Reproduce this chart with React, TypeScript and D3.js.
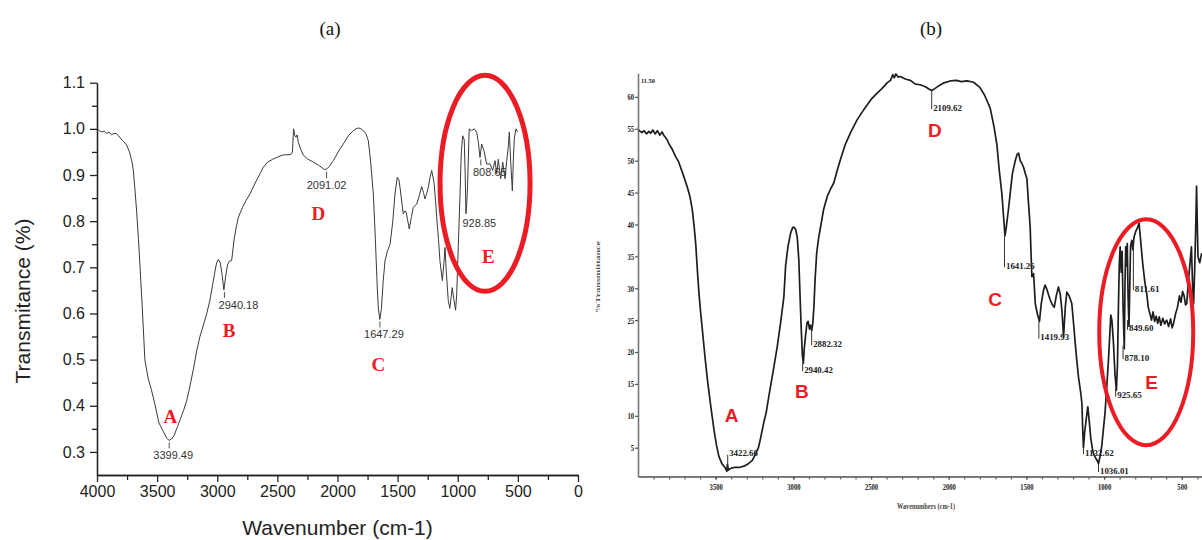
import React, { useRef, useEffect } from "react";
import * as d3 from "d3";

/* (a) spectrum: [wavenumber cm-1, transmittance] */
const spectrumA: [number, number][] = [
  [4000, 1.0], [3980, 0.996], [3960, 0.993], [3940, 0.995], [3920, 0.99], [3900, 0.993],
  [3880, 0.987], [3860, 0.99], [3840, 0.99], [3820, 0.985], [3800, 0.978], [3780, 0.973],
  [3754, 0.965], [3730, 0.95], [3710, 0.93], [3698, 0.91], [3685, 0.87], [3670, 0.82],
  [3655, 0.76], [3642, 0.7], [3625, 0.62], [3602, 0.5], [3575, 0.46], [3548, 0.435],
  [3520, 0.405], [3485, 0.363], [3450, 0.345], [3420, 0.33], [3400, 0.325], [3380, 0.328],
  [3360, 0.335], [3330, 0.355], [3309, 0.37], [3280, 0.39], [3255, 0.41], [3225, 0.445],
  [3198, 0.48], [3170, 0.52], [3144, 0.55], [3115, 0.575], [3087, 0.6], [3060, 0.63],
  [3040, 0.66], [3020, 0.69], [3005, 0.71], [2991, 0.717], [2975, 0.71], [2960, 0.685],
  [2945, 0.651], [2930, 0.68], [2915, 0.705], [2900, 0.713], [2880, 0.715], [2860, 0.76],
  [2840, 0.79], [2825, 0.808], [2790, 0.83], [2760, 0.845], [2728, 0.859], [2680, 0.885],
  [2640, 0.905], [2617, 0.917], [2580, 0.928], [2540, 0.934], [2506, 0.938], [2460, 0.943],
  [2420, 0.944], [2390, 0.944], [2375, 0.95], [2365, 1.0], [2355, 0.985], [2345, 0.982],
  [2336, 0.987], [2326, 0.971], [2305, 0.955], [2284, 0.943], [2250, 0.935], [2201, 0.928],
  [2150, 0.92], [2110, 0.912], [2090, 0.913], [2070, 0.918], [2035, 0.931], [1990, 0.952],
  [1952, 0.967], [1910, 0.985], [1869, 0.996], [1845, 1.0], [1827, 1.002], [1805, 1.0],
  [1785, 0.996], [1765, 0.99], [1744, 0.975], [1725, 0.93], [1702, 0.859], [1685, 0.76],
  [1670, 0.66], [1660, 0.61], [1648, 0.587], [1635, 0.61], [1620, 0.67], [1605, 0.714],
  [1585, 0.735], [1563, 0.75], [1540, 0.8], [1522, 0.859], [1503, 0.895], [1490, 0.89],
  [1480, 0.873], [1465, 0.84], [1453, 0.816], [1440, 0.822], [1430, 0.82], [1415, 0.8],
  [1403, 0.783], [1385, 0.81], [1370, 0.83], [1341, 0.837], [1320, 0.855], [1300, 0.875],
  [1285, 0.862], [1272, 0.848], [1258, 0.86], [1245, 0.873], [1230, 0.895], [1217, 0.91],
  [1198, 0.885], [1185, 0.845], [1175, 0.808], [1160, 0.76], [1148, 0.714], [1128, 0.671],
  [1115, 0.71], [1106, 0.743], [1095, 0.69], [1079, 0.628], [1066, 0.611], [1055, 0.635],
  [1046, 0.656], [1032, 0.63], [1018, 0.607], [1009, 0.64], [995, 0.75], [981, 0.859],
  [970, 0.95], [959, 0.985], [946, 0.976], [938, 0.9], [932, 0.816], [925, 0.84],
  [918, 0.88], [905, 1.0], [885, 0.996], [863, 1.0], [843, 0.993], [828, 0.97],
  [815, 0.938], [801, 0.967], [782, 0.953], [760, 0.924], [732, 0.924], [710, 0.91],
  [690, 0.931], [676, 0.903], [663, 0.934], [643, 0.892], [626, 0.928], [607, 0.892],
  [593, 0.931], [580, 0.96], [571, 0.993], [560, 0.93], [546, 0.866], [538, 0.93],
  [530, 0.978], [516, 1.0], [502, 0.993],
];

/* (b) spectrum: [wavenumber cm-1, %T] */
const spectrumB: [number, number][] = [
  [3995, 54.8], [3975, 54.4], [3960, 54.7], [3945, 54.2], [3930, 54.6], [3918, 54.3],
  [3905, 54.8], [3890, 54.2], [3875, 54.7], [3860, 54.0], [3845, 54.5], [3832, 53.9],
  [3815, 53.4], [3800, 52.6], [3780, 51.8], [3757, 50.6], [3740, 49.9], [3725, 48.9],
  [3705, 47.5], [3682, 45.8], [3665, 44.3], [3650, 42.2], [3638, 39.5], [3628, 36.8],
  [3617, 32.5], [3607, 29.0], [3596, 26.0], [3585, 23.3], [3570, 19.5], [3553, 15.6],
  [3530, 11.2], [3511, 7.8], [3495, 5.4], [3479, 3.6], [3460, 2.5], [3440, 1.9],
  [3428, 1.3], [3425, 2.4], [3418, 1.5], [3400, 1.8], [3380, 1.9], [3350, 1.9],
  [3318, 2.1], [3290, 2.5], [3264, 3.0], [3240, 4.2], [3225, 5.0], [3211, 6.5],
  [3190, 9.0], [3175, 10.5], [3157, 13.2], [3130, 17.0], [3104, 20.8], [3080, 25.0],
  [3061, 28.7], [3050, 33.5], [3035, 36.5], [3018, 38.6], [3005, 39.5], [2997, 39.6],
  [2985, 39.2], [2975, 38.0], [2965, 34.5], [2958, 29.5], [2950, 24.0], [2942, 19.5],
  [2936, 18.2], [2930, 20.5], [2922, 22.5], [2912, 24.6], [2905, 24.8], [2896, 23.6],
  [2889, 24.2], [2882, 23.4], [2875, 24.5], [2868, 27.0], [2860, 31.5], [2850, 35.5],
  [2838, 37.8], [2825, 39.6], [2805, 42.4], [2782, 44.4], [2760, 45.6], [2740, 46.5],
  [2720, 48.3], [2697, 50.2], [2665, 52.6], [2632, 54.4], [2590, 56.4], [2547, 58.0],
  [2500, 59.6], [2461, 60.6], [2430, 61.3], [2397, 62.2], [2375, 62.6], [2360, 63.5],
  [2350, 63.0], [2340, 63.6], [2325, 63.1], [2311, 63.2], [2280, 62.8], [2247, 62.6],
  [2215, 62.0], [2183, 61.9], [2150, 61.6], [2125, 61.2], [2110, 61.0], [2090, 61.3],
  [2060, 61.8], [2030, 62.2], [1990, 62.5], [1950, 62.6], [1920, 62.4], [1882, 62.5],
  [1840, 62.3], [1800, 61.5], [1770, 60.3], [1750, 59.2], [1733, 58.2], [1710, 55.5],
  [1690, 52.5], [1675, 48.5], [1658, 44.8], [1645, 40.5], [1638, 38.2], [1630, 39.5],
  [1615, 42.5], [1604, 45.0], [1590, 48.0], [1572, 50.0], [1560, 51.0], [1551, 51.2],
  [1540, 50.0], [1530, 49.6], [1519, 49.0], [1505, 47.8], [1497, 47.2], [1487, 43.5],
  [1476, 39.6], [1465, 31.8], [1454, 32.3], [1443, 27.6], [1430, 26.0], [1416, 24.8],
  [1405, 27.5], [1390, 29.7], [1380, 30.5], [1368, 29.8], [1358, 29.0], [1347, 28.2],
  [1335, 27.5], [1321, 27.0], [1308, 28.8], [1294, 30.2], [1282, 29.0], [1272, 26.6],
  [1261, 22.4], [1250, 27.0], [1240, 29.4], [1225, 28.8], [1208, 27.6], [1195, 24.0],
  [1186, 21.4], [1175, 18.5], [1165, 16.1], [1150, 13.5], [1143, 12.0], [1138, 8.0],
  [1133, 5.0], [1125, 7.5], [1115, 9.5], [1105, 11.4], [1095, 9.0], [1086, 6.5],
  [1075, 4.8], [1069, 4.1], [1055, 3.4], [1045, 3.0], [1036, 2.5], [1025, 3.8],
  [1015, 5.3], [1005, 7.8], [994, 10.5], [983, 14.5], [972, 18.8], [963, 23.0],
  [957, 25.8], [950, 25.0], [940, 21.5], [930, 16.5], [921, 14.0], [914, 18.0],
  [908, 27.0], [902, 34.0], [897, 36.5], [890, 32.5], [884, 35.8], [878, 27.0],
  [870, 20.5], [866, 30.0], [861, 36.5], [856, 33.5], [851, 37.0], [846, 29.0],
  [840, 24.0], [835, 30.0], [830, 36.5], [822, 37.5], [815, 36.0], [808, 38.0],
  [795, 39.0], [785, 39.5], [775, 40.2], [765, 37.5], [752, 34.0], [738, 31.0],
  [725, 29.0], [716, 27.0], [705, 26.0], [695, 25.0], [685, 26.3], [675, 24.8],
  [665, 25.6], [655, 24.5], [645, 25.5], [635, 24.2], [622, 25.3], [610, 24.4],
  [597, 25.0], [585, 24.0], [572, 25.2], [562, 23.8], [552, 24.6], [540, 26.0],
  [528, 27.0], [515, 28.8], [505, 27.8], [495, 29.5], [485, 28.8], [476, 27.4],
  [468, 27.6], [458, 31.0], [447, 34.0], [438, 36.5], [430, 30.0], [424, 27.6],
  [417, 33.0], [410, 40.0], [405, 46.0], [401, 41.0], [396, 35.0], [385, 34.0],
  [372, 35.5],
];

const xTicksA = [4000, 3500, 3000, 2500, 2000, 1500, 1000, 500, 0];
const yTicksA = [0.3, 0.4, 0.5, 0.6, 0.7, 0.8, 0.9, 1.0, 1.1];
const xTicksB = [3500, 3000, 2500, 2000, 1500, 1000, 500];
const yTicksB = [5, 10, 15, 20, 25, 30, 35, 40, 45, 50, 55, 60];

/* peak labels (a): label, wavenumber, transmittance at the dip */
const peaksA = [
  { text: "3399.49", wn: 3399.49, t: 0.325, dx: 4, dy: 19 },
  { text: "2940.18", wn: 2940.18, t: 0.651, dx: 14, dy: 19 },
  { text: "2091.02", wn: 2091.02, t: 0.912, dx: 0, dy: 20 },
  { text: "1647.29", wn: 1647.29, t: 0.587, dx: 4, dy: 19 },
  { text: "928.85", wn: 928.85, t: 0.816, dx: 13, dy: 13 },
  { text: "808.65", wn: 808.65, t: 0.938, dx: 9, dy: 19 },
];
const lettersA = [
  { text: "A", wn: 3389, t: 0.377 },
  { text: "B", wn: 2902, t: 0.563 },
  { text: "C", wn: 1661, t: 0.489 },
  { text: "D", wn: 2160, t: 0.816 },
  { text: "E", wn: 746, t: 0.723 },
];

/* peak labels (b): label, wavenumber, %T at curve, %T of label */
const peaksB = [
  { text: "3422.66", wn: 3422.66, v: 1.5, lv: 4.2 },
  { text: "2940.42", wn: 2940.42, v: 18.2, lv: 17.3 },
  { text: "2882.32", wn: 2882.32, v: 23.4, lv: 21.4 },
  { text: "2109.62", wn: 2109.62, v: 61.0, lv: 58.4 },
  { text: "1641.26", wn: 1641.26, v: 38.5, lv: 33.6 },
  { text: "1419.93", wn: 1419.93, v: 24.8, lv: 22.4 },
  { text: "1132.62", wn: 1132.62, v: 5.0, lv: 4.3 },
  { text: "1036.01", wn: 1036.01, v: 2.5, lv: 1.5 },
  { text: "925.65", wn: 925.65, v: 14.5, lv: 13.3 },
  { text: "878.10", wn: 878.1, v: 21.0, lv: 19.2 },
  { text: "849.60", wn: 849.6, v: 25.0, lv: 23.8 },
  { text: "811.61", wn: 811.61, v: 37.0, lv: 30.0 },
];
const lettersB = [
  { text: "A", wn: 3397, v: 10.1 },
  { text: "B", wn: 2946, v: 13.8 },
  { text: "C", wn: 1702, v: 28.2 },
  { text: "D", wn: 2089, v: 54.8 },
  { text: "E", wn: 694, v: 15.3 },
];

const RED = "#ec1c24";

const App = () => {
  const svgRef = useRef(null);

  const draw = () => {
    const svg = d3.select(svgRef.current);
    svg.selectAll("*").remove();

    /* ---------- panel (a) ---------- */
    const ax = d3.scaleLinear().domain([4000, 0]).range([97, 578]);
    const ay = d3.scaleLinear().domain([0.25, 1.1]).range([475, 82.7]);
    const gA = svg.append("g");

    const styleAxis = (g, size) => {
      g.selectAll(".domain").attr("stroke", "#222").attr("stroke-width", 1.3);
      g.selectAll(".tick line").attr("stroke", "#222").attr("stroke-width", 1.3);
      g.selectAll("text")
        .attr("fill", "#222")
        .style("font-family", "Arial, 'Liberation Sans', sans-serif")
        .style("font-size", size + "px");
    };

    // minor ticks
    gA.append("g")
      .attr("transform", `translate(0,${ay(0.25)})`)
      .call(d3.axisBottom(ax).tickValues(d3.range(250, 4000, 500)).tickSize(5).tickSizeOuter(0).tickFormat(() => ""))
      .call((g) => styleAxis(g, 16));
    gA.append("g")
      .attr("transform", `translate(${ax(4000)},0)`)
      .call(d3.axisLeft(ay).tickValues(d3.range(0.35, 1.1, 0.1)).tickSize(5).tickSizeOuter(0).tickFormat(() => ""))
      .call((g) => styleAxis(g, 16));

    gA.append("g")
      .attr("transform", `translate(0,${ay(0.25)})`)
      .call(d3.axisBottom(ax).tickValues(xTicksA).tickSize(7).tickPadding(4).tickSizeOuter(0).tickFormat(d3.format("d")))
      .call((g) => styleAxis(g, 16));
    gA.append("g")
      .attr("transform", `translate(${ax(4000)},0)`)
      .call(d3.axisLeft(ay).tickValues(yTicksA).tickSize(7).tickPadding(5).tickSizeOuter(0).tickFormat(d3.format(".1f")))
      .call((g) => styleAxis(g, 16));

    gA.append("text")
      .attr("x", (ax(4000) + ax(0)) / 2)
      .attr("y", 535)
      .attr("text-anchor", "middle")
      .style("font-family", "Arial, 'Liberation Sans', sans-serif")
      .style("font-size", "21px")
      .attr("fill", "#222")
      .text("Wavenumber (cm-1)");
    gA.append("text")
      .attr("transform", "translate(23,301) rotate(-90)")
      .attr("dy", "0.35em")
      .attr("text-anchor", "middle")
      .style("font-family", "Arial, 'Liberation Sans', sans-serif")
      .style("font-size", "21px")
      .attr("fill", "#222")
      .text("Transmitance (%)");

    const lineA = d3.line().x((d) => ax(d[0])).y((d) => ay(d[1]));
    gA.append("path")
      .datum(spectrumA)
      .attr("fill", "none")
      .attr("stroke", "#3a3a3a")
      .attr("stroke-width", 1)
      .attr("d", lineA);

    peaksA.forEach((p) => {
      const px = ax(p.wn);
      const py = ay(p.t);
      gA.append("line")
        .attr("x1", px).attr("x2", px)
        .attr("y1", py + 2).attr("y2", py + p.dy - 11)
        .attr("stroke", "#555").attr("stroke-width", 1);
      gA.append("text")
        .attr("x", px + p.dx)
        .attr("y", py + p.dy)
        .attr("text-anchor", "middle")
        .style("font-family", "Arial, 'Liberation Sans', sans-serif")
        .style("font-size", "11px")
        .attr("fill", "#333")
        .text(p.text);
    });

    gA.append("ellipse")
      .attr("cx", ax(773)).attr("cy", ay(0.882))
      .attr("rx", 45).attr("ry", 108)
      .attr("fill", "none").attr("stroke", RED).attr("stroke-width", 5);

    lettersA.forEach((l) => {
      gA.append("text")
        .attr("x", ax(l.wn)).attr("y", ay(l.t))
        .attr("dy", "0.35em")
        .attr("text-anchor", "middle")
        .style("font-family", "'Liberation Serif', 'Times New Roman', serif")
        .style("font-size", "19px")
        .style("font-weight", "bold")
        .attr("fill", RED)
        .text(l.text);
    });

    /* ---------- panel (b) ---------- */
    const bx = d3.scaleLinear().domain([4000, 370]).range([638, 1202]);
    const by = d3.scaleLinear().domain([0.5, 63.7]).range([476.4, 73.3]);
    const gB = svg.append("g");

    const styleAxisB = (g) => {
      g.selectAll(".domain").attr("stroke", "#777").attr("stroke-width", 1.6);
      g.selectAll(".tick line").attr("stroke", "#555").attr("stroke-width", 1.2);
      g.selectAll("text")
        .attr("fill", "#222")
        .style("font-family", "'Liberation Serif', 'Times New Roman', serif")
        .style("font-weight", "bold")
        .style("font-size", "9px")
        .attr("lengthAdjust", "spacingAndGlyphs")
        .attr("textLength", function () {
          const n = (this as SVGTextElement).textContent.length;
          return n * 3.3;
        });
    };

    gB.append("g")
      .attr("transform", `translate(0,${by(0.5)})`)
      .call(d3.axisBottom(bx).tickValues(d3.range(400, 4000, 100)).tickSize(3).tickSizeOuter(0).tickFormat(() => ""))
      .call(styleAxisB);
    gB.append("g")
      .attr("transform", `translate(0,${by(0.5)})`)
      .call(d3.axisBottom(bx).tickValues(xTicksB).tickSize(3).tickPadding(4).tickSizeOuter(0).tickFormat(d3.format("d")))
      .call(styleAxisB);
    gB.append("g")
      .attr("transform", `translate(${bx(4000)},0)`)
      .call(d3.axisLeft(by).tickValues(yTicksB).tickSize(3).tickPadding(1).tickSizeOuter(0).tickFormat(d3.format("d")))
      .call(styleAxisB);

    const tinyText = (x, y, txt, len, anchor = "start") =>
      gB.append("text")
        .attr("x", x).attr("y", y)
        .attr("text-anchor", anchor)
        .attr("lengthAdjust", "spacingAndGlyphs")
        .attr("textLength", len)
        .style("font-family", "'Liberation Serif', 'Times New Roman', serif")
        .style("font-weight", "bold")
        .style("font-size", "9px")
        .attr("fill", "#222")
        .text(txt);

    tinyText(926, 509, "Wavenumbers (cm-1)", 58, "middle").style("font-size", "8px").attr("fill", "#444");
    tinyText(641, 83, "11.50", 14).style("font-size", "7px");
    gB.append("text")
      .attr("transform", "translate(600,277) rotate(-90)")
      .attr("text-anchor", "middle")
      .attr("lengthAdjust", "spacingAndGlyphs")
      .attr("textLength", 72)
      .style("font-family", "'Liberation Serif', serif")
      .style("font-size", "7px")
      .style("font-weight", "bold")
      .attr("fill", "#555")
      .text("%Transmittance");

    const lineB = d3.line().x((d) => bx(d[0])).y((d) => by(d[1]));
    gB.append("path")
      .datum(spectrumB)
      .attr("fill", "none")
      .attr("stroke", "#1e1e1e")
      .attr("stroke-width", 1.7)
      .attr("stroke-linejoin", "round")
      .attr("d", lineB);

    peaksB.forEach((p) => {
      const px = bx(p.wn);
      gB.append("line")
        .attr("x1", px).attr("x2", px)
        .attr("y1", by(p.v)).attr("y2", by(p.lv) + 2)
        .attr("stroke", "#333").attr("stroke-width", 1);
      tinyText(px + 1.5, by(p.lv) + 3.5, p.text, p.text.length * 4.1);
    });

    gB.append("ellipse")
      .attr("cx", bx(729)).attr("cy", by(23.1))
      .attr("rx", 47).attr("ry", 113)
      .attr("fill", "none").attr("stroke", RED).attr("stroke-width", 4);

    lettersB.forEach((l) => {
      gB.append("text")
        .attr("x", bx(l.wn)).attr("y", by(l.v))
        .attr("dy", "0.35em")
        .attr("text-anchor", "middle")
        .style("font-family", "Arial, 'Liberation Sans', sans-serif")
        .style("font-size", "19px")
        .style("font-weight", "bold")
        .attr("fill", RED)
        .text(l.text);
    });

    /* panel titles */
    [["(a)", 330], ["(b)", 931]].forEach(([t, x]) => {
      svg.append("text")
        .attr("x", x).attr("y", 28)
        .attr("dy", "0.35em")
        .attr("text-anchor", "middle")
        .style("font-family", "'Liberation Serif', 'Times New Roman', serif")
        .style("font-size", "19px")
        .attr("fill", "#111")
        .text(t);
    });
  };

  useEffect(() => {
    draw();
  }, []);

  return (
    <svg
      ref={svgRef}
      width={1202}
      height={540}
      style={{ position: "absolute", left: 0, top: 0, background: "#fff" }}
    />
  );
};

export default App;
